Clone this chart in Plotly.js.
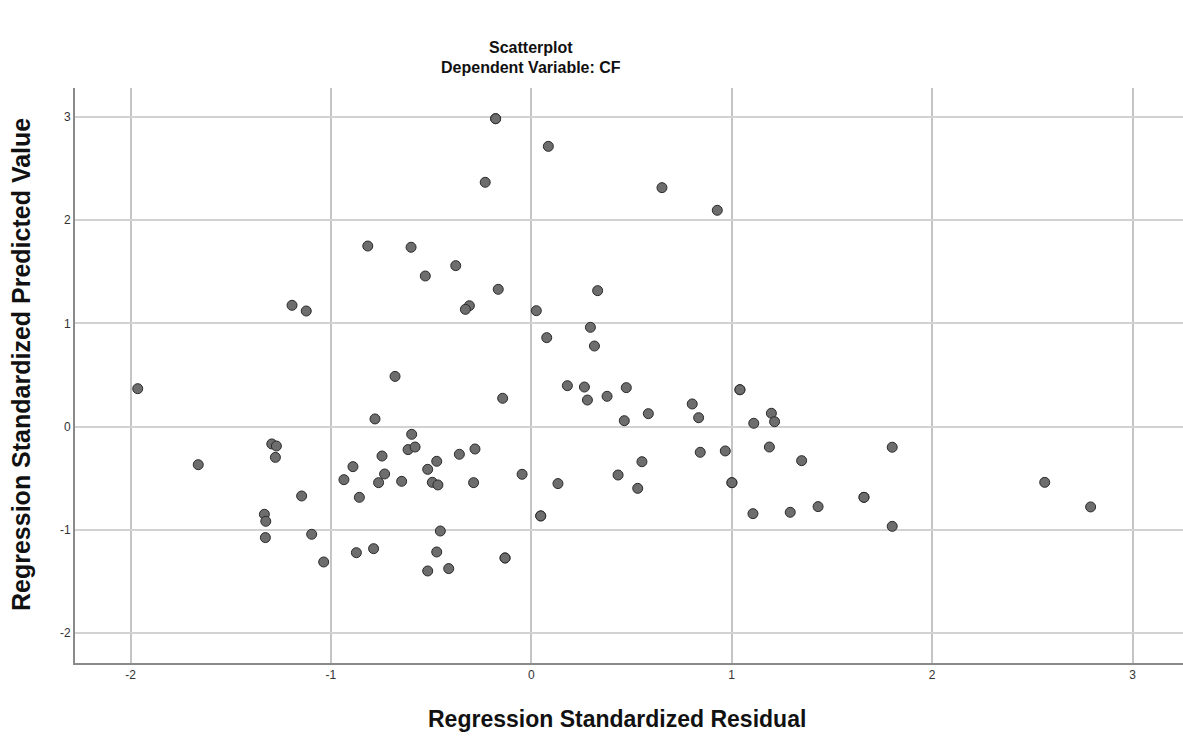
<!DOCTYPE html>
<html>
<head>
<meta charset="utf-8">
<script src="https://cdn.plot.ly/plotly-3.0.1.min.js"></script>
<style>
  html, body { margin: 0; padding: 0; background: #ffffff; }
  #chart { width: 1183px; height: 738px; }
</style>
</head>
<body>
<div id="chart"></div>
<script>
// Regression Standardized Residual (x)
const residual = [
  -0.816, -1.194, -1.123, -0.680, -1.964, -1.662, -1.295, -1.272, -1.277, -1.146,
  -1.332, -1.325, -1.327, -1.096, -1.036, -0.780, -0.890, -0.935, -0.745, -0.732,
  -0.762, -0.858, -0.873, -0.787, -0.178, 0.085, -0.230, 0.652, 0.928, -0.600,
  -0.529, -0.377, -0.165, -0.309, -0.329, 0.025, 0.331, 0.295, 0.077, 0.315,
  -0.143, 0.180, 0.265, 0.280, 0.378, 0.474, 0.464, 0.584, 0.803, 0.835,
  1.041, 1.110, 1.198, 1.214, 0.843, 0.968, 1.188, 0.552, 0.433, 0.531,
  1.001, 1.106, -0.046, 0.133, 0.047, -0.131, -0.597, -0.615, -0.580, -0.647,
  -0.517, -0.472, -0.494, -0.466, -0.359, -0.281, -0.288, -0.454, -0.472, -0.517,
  -0.412, 1.349, 1.801, 1.292, 1.431, 1.660, 1.801, 2.562, 2.791,
  -0.178, 1.041, 1.001, 0.047, -0.131, 1.660
];
// Regression Standardized Predicted Value (y)
const predicted = [
  1.749, 1.175, 1.120, 0.487, 0.368, -0.368, -0.167, -0.187, -0.297, -0.671,
  -0.848, -0.916, -1.074, -1.042, -1.310, 0.075, -0.387, -0.513, -0.284, -0.458,
  -0.542, -0.684, -1.220, -1.181, 2.982, 2.714, 2.366, 2.314, 2.095, 1.737,
  1.459, 1.559, 1.330, 1.171, 1.136, 1.123, 1.317, 0.962, 0.862, 0.781,
  0.275, 0.397, 0.384, 0.258, 0.294, 0.378, 0.058, 0.126, 0.220, 0.087,
  0.358, 0.033, 0.130, 0.048, -0.248, -0.235, -0.197, -0.339, -0.468, -0.597,
  -0.542, -0.842, -0.461, -0.551, -0.864, -1.271, -0.074, -0.222, -0.197, -0.529,
  -0.413, -0.335, -0.539, -0.564, -0.267, -0.216, -0.542, -1.010, -1.213, -1.397,
  -1.374, -0.329, -0.199, -0.829, -0.774, -0.684, -0.965, -0.539, -0.777,
  2.982, 0.358, -0.542, -0.864, -1.271, -0.684
];
const xTicks = [-2, -1, 0, 1, 2, 3];
const yTicks = [-2, -1, 0, 1, 2, 3];
const chartTitle = "Scatterplot";
const chartSubtitle = "Dependent Variable: CF";
const xTitle = "Regression Standardized Residual";
const yTitle = "Regression Standardized Predicted Value";

const FONT = "'Liberation Sans', Arial, sans-serif";

const trace = {
  x: residual,
  y: predicted,
  type: "scatter",
  mode: "markers",
  marker: {
    size: 10,
    color: "#6d6d6d",
    line: { color: "#2b2b2b", width: 1 }
  },
  hoverinfo: "x+y"
};

const layout = {
  width: 1183,
  height: 738,
  margin: { l: 75, r: 0, t: 88, b: 75, pad: 0 },
  paper_bgcolor: "#ffffff",
  plot_bgcolor: "#ffffff",
  showlegend: false,
  font: { family: FONT, color: "#222222", size: 12 },
  xaxis: {
    range: [-2.277, 3.252],
    tickvals: xTicks,
    ticktext: xTicks.map(String),
    showgrid: true,
    gridcolor: "#c4c4c4",
    gridwidth: 1.5,
    zeroline: false,
    showline: true,
    linecolor: "#8a8a8a",
    linewidth: 2,
    ticks: "",
    ticklen: 0,
    tickfont: { family: FONT, size: 12, color: "#333333" },
    mirror: false
  },
  yaxis: {
    range: [-2.288, 3.279],
    tickvals: yTicks,
    ticktext: yTicks.map(String),
    showgrid: true,
    gridcolor: "#d2d2d2",
    gridwidth: 1.5,
    zeroline: false,
    showline: true,
    linecolor: "#8a8a8a",
    linewidth: 2,
    ticks: "",
    ticklen: 0,
    tickfont: { family: FONT, size: 12, color: "#333333" },
    mirror: false
  },
  annotations: [
    {
      text: "<b>" + chartTitle + "</b>",
      xref: "paper", yref: "paper",
      x: (531 - 75) / 1108, y: 1 + (88 - 47) / 575,
      xanchor: "center", yanchor: "middle",
      showarrow: false,
      font: { family: FONT, size: 16, color: "#111111" }
    },
    {
      text: "<b>" + chartSubtitle + "</b>",
      xref: "paper", yref: "paper",
      x: (531 - 75) / 1108, y: 1 + (88 - 68) / 575,
      xanchor: "center", yanchor: "middle",
      showarrow: false,
      font: { family: FONT, size: 16, color: "#111111" }
    },
    {
      text: "<b>" + xTitle + "</b>",
      xref: "paper", yref: "paper",
      x: (617 - 75) / 1108, y: -(719 - 663) / 575,
      xanchor: "center", yanchor: "middle",
      showarrow: false,
      font: { family: FONT, size: 23, color: "#111111" }
    },
    {
      text: "<b>" + yTitle + "</b>",
      xref: "paper", yref: "paper",
      x: -(75 - 21) / 1108, y: (663 - 365) / 575,
      xanchor: "center", yanchor: "middle",
      textangle: -90,
      showarrow: false,
      font: { family: FONT, size: 25, color: "#111111" }
    }
  ]
};

Plotly.newPlot("chart", [trace], layout, { displayModeBar: false, staticPlot: false });
</script>
</body>
</html>
